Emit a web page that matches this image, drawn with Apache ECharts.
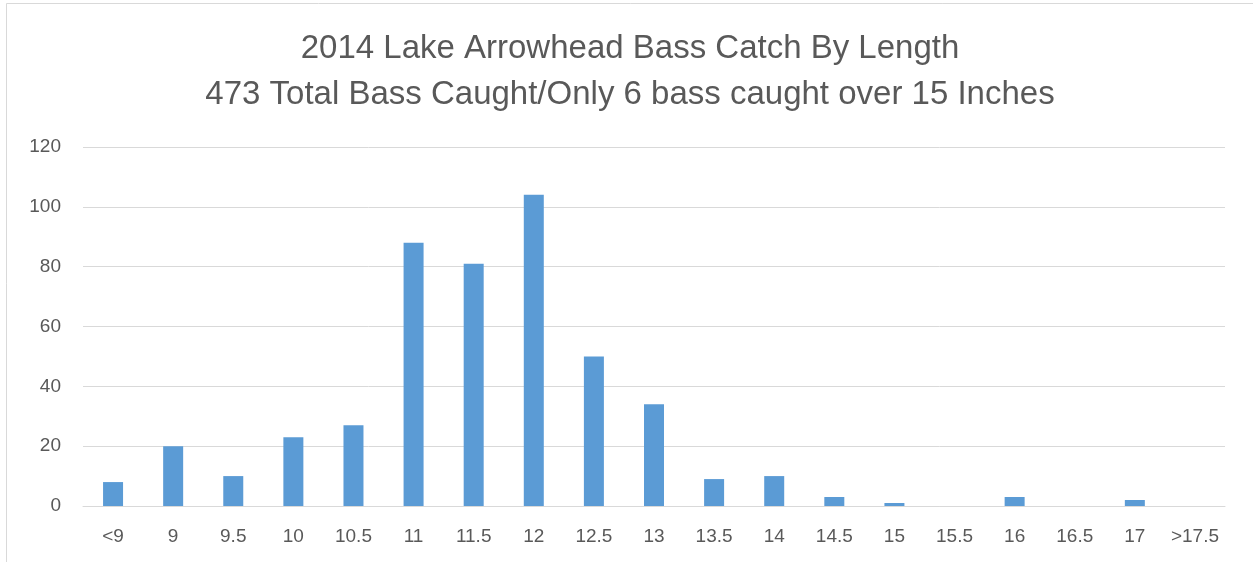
<!DOCTYPE html>
<html><head><meta charset="utf-8">
<script src="https://cdn.jsdelivr.net/npm/echarts@6/dist/echarts.min.js"></script>
<style>html,body{margin:0;padding:0;background:#fff;}#c{width:1253px;height:562px;}</style>
</head><body><div id="c"></div>
<script>
const categories = ['<9','9','9.5','10','10.5','11','11.5','12','12.5','13','13.5','14','14.5','15','15.5','16','16.5','17','>17.5'];
const counts = [8,20,10,23,27,88,81,104,50,34,9,10,3,1,0,3,0,2,0];
const titleLines = ['2014 Lake Arrowhead Bass Catch By Length','473 Total Bass Caught/Only 6 bass caught over 15 Inches'];
const yTicks = {min:0, max:120, interval:20};

const chart = echarts.init(document.getElementById('c'), null, {renderer:'canvas'});
chart.setOption({
  animation:false,
  backgroundColor:'#fff',
  graphic:[{type:'rect', shape:{x:6.5,y:3.5,width:1300,height:600}, style:{fill:'none',stroke:'#d9d9d9',lineWidth:1}, silent:true}],
  title:{
    text: titleLines.join('\n'),
    left:625, textAlign:'center', top:21,
    textStyle:{fontFamily:'Liberation Sans', fontSize:33, fontWeight:'normal', color:'#595959', lineHeight:46}
  },
  grid:{left:83, right:28, top:147, bottom:56},
  xAxis:{
    type:'category', data:categories,
    axisLine:{lineStyle:{color:'#d9d9d9', width:1}},
    axisTick:{show:false},
    axisLabel:{color:'#595959', fontFamily:'Liberation Sans', fontSize:19, margin:21, interval:0}
  },
  yAxis:{
    type:'value', min:yTicks.min, max:yTicks.max, interval:yTicks.interval,
    axisLine:{show:false}, axisTick:{show:false},
    splitLine:{lineStyle:{color:'#d9d9d9', width:1}},
    axisLabel:{color:'#595959', fontFamily:'Liberation Sans', fontSize:19, margin:22}
  },
  series:[{type:'bar', data:counts, barWidth:20, itemStyle:{color:'#5b9bd5'}}]
});
</script></body></html>
